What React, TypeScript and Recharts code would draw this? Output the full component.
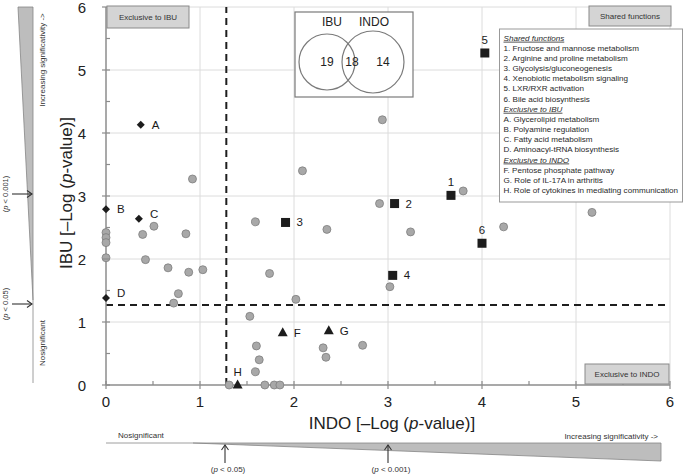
import React from "react";
import { ScatterChart, Scatter, XAxis, YAxis, ReferenceLine } from "recharts";

const FONT = '"Liberation Sans", Arial, Helvetica, sans-serif';

const axisTicks = [0, 0.5, 1, 1.5, 2, 2.5, 3, 3.5, 4, 4.5, 5, 5.5, 6];
const gridValues = [1, 2, 3, 4, 5, 6];
const indoThreshold = 1.28;
const ibuThreshold = 1.27;

const otherFunctions = [
  { x: 0, y: 2.42 }, { x: 0, y: 2.34 }, { x: 0, y: 2.26 }, { x: 0, y: 2.02 },
  { x: 0.39, y: 2.39 }, { x: 0.51, y: 2.52 }, { x: 0.42, y: 1.99 }, { x: 0.92, y: 3.27 },
  { x: 0.85, y: 2.4 }, { x: 0.66, y: 1.86 }, { x: 0.88, y: 1.79 }, { x: 1.03, y: 1.83 },
  { x: 0.77, y: 1.45 }, { x: 0.72, y: 1.3 },
  { x: 1.59, y: 2.59 }, { x: 1.74, y: 1.77 }, { x: 2.09, y: 3.4 }, { x: 2.94, y: 4.21 },
  { x: 2.91, y: 2.88 }, { x: 2.35, y: 2.47 }, { x: 3.24, y: 2.43 }, { x: 3.8, y: 3.08 },
  { x: 4.23, y: 2.51 }, { x: 5.17, y: 2.74 }, { x: 3.02, y: 1.56 }, { x: 2.02, y: 1.36 },
  { x: 1.53, y: 1.09 }, { x: 1.6, y: 0.62 }, { x: 1.63, y: 0.4 }, { x: 1.59, y: 0.21 },
  { x: 2.31, y: 0.59 }, { x: 2.34, y: 0.44 }, { x: 2.73, y: 0.63 },
  { x: 1.31, y: 0 }, { x: 1.69, y: 0 }, { x: 1.79, y: 0 }, { x: 1.85, y: 0 },
];

const sharedFunctions = [
  { label: "1", x: 3.67, y: 3.01 },
  { label: "2", x: 3.07, y: 2.88 },
  { label: "3", x: 1.91, y: 2.58 },
  { label: "4", x: 3.05, y: 1.74 },
  { label: "5", x: 4.03, y: 5.27 },
  { label: "6", x: 4.0, y: 2.25 },
];

const ibuFunctions = [
  { label: "A", x: 0.37, y: 4.13 },
  { label: "B", x: 0, y: 2.79 },
  { label: "C", x: 0.35, y: 2.64 },
  { label: "D", x: 0, y: 1.38 },
];

const indoFunctions = [
  { label: "F", x: 1.88, y: 0.83 },
  { label: "G", x: 2.37, y: 0.86 },
  { label: "H", x: 1.4, y: 0 },
];

const vennLabels = ["IBU", "INDO"];
const vennCounts = [19, 18, 14];

const legendSharedTitle = "Shared functions";
const legendShared = [
  "1. Fructose and mannose metabolism",
  "2. Arginine and proline metabolism",
  "3. Glycolysis/gluconeogenesis",
  "4. Xenobiotic metabolism signaling",
  "5. LXR/RXR activation",
  "6. Bile acid biosynthesis",
];
const legendIbuTitle = "Exclusive to IBU";
const legendIbu = [
  "A. Glycerolipid metabolism",
  "B. Polyamine regulation",
  "C. Fatty acid metabolism",
  "D. Aminoacyl-tRNA biosynthesis",
];
const legendIndoTitle = "Exclusive to INDO";
const legendIndo = [
  "F. Pentose phosphate pathway",
  "G. Role of IL-17A in arthritis",
  "H. Role of cytokines in mediating communication",
];

const labelSide: Record<string, string> = {
  "1": "top", "5": "top", "6": "top", H: "top", C: "rightUp", D: "rightUp",
};

const AXIS = "#8c8c8c";

const XTick = (props: any) => {
  const { x, y, payload } = props;
  const v = payload.value;
  const major = Number.isInteger(v);
  return (
    <g>
      <line x1={x} x2={x} y1={y - 4} y2={major ? y + 4 : y} stroke={AXIS} strokeWidth={1.2} />
      {major && (
        <text x={x} y={y + 22} textAnchor="middle" fontSize={15} fontFamily={FONT} fill="#222">
          {v}
        </text>
      )}
    </g>
  );
};

const YTick = (props: any) => {
  const { x, y, payload } = props;
  const v = payload.value;
  const major = Number.isInteger(v);
  return (
    <g>
      <line x1={major ? x - 4 : x} x2={x + 4} y1={y} y2={y} stroke={AXIS} strokeWidth={1.2} />
      {major && (
        <text x={x - 20} y={y + 5.5} textAnchor="end" fontSize={15} fontFamily={FONT} fill="#222">
          {v}
        </text>
      )}
    </g>
  );
};

const pointLabel = (cx: number, cy: number, label: string) => {
  const side = labelSide[label] || "right";
  if (side === "top") {
    return (
      <text x={cx} y={cy - 9} textAnchor="middle" fontSize={11.5} fontFamily={FONT} fill="#1a1a1a">
        {label}
      </text>
    );
  }
  const dy = side === "rightUp" ? -1 : 4;
  return (
    <text x={cx + 11} y={cy + dy} textAnchor="start" fontSize={11.5} fontFamily={FONT} fill="#1a1a1a">
      {label}
    </text>
  );
};

const circleShape = (p: any) => (
  <circle cx={p.cx} cy={p.cy} r={4} fill="#a8a8a8" stroke="#7e7e7e" strokeWidth={0.8} />
);

const squareShape = (p: any) => (
  <g>
    <rect x={p.cx - 4.5} y={p.cy - 4.5} width={9} height={9} fill="#1c1c1c" />
    {pointLabel(p.cx, p.cy, p.payload.label)}
  </g>
);

const diamondShape = (p: any) => (
  <g>
    <polygon
      points={`${p.cx},${p.cy - 4} ${p.cx + 4},${p.cy} ${p.cx},${p.cy + 4} ${p.cx - 4},${p.cy}`}
      fill="#1c1c1c"
    />
    {pointLabel(p.cx, p.cy, p.payload.label)}
  </g>
);

const triangleShape = (p: any) => (
  <g>
    <polygon
      points={`${p.cx},${p.cy - 5.5} ${p.cx + 5},${p.cy + 3.5} ${p.cx - 5},${p.cy + 3.5}`}
      fill="#1c1c1c"
    />
    {pointLabel(p.cx, p.cy, p.payload.label)}
  </g>
);

const GrayBox = ({ x, y, w, h, text }: any) => (
  <g>
    <rect x={x} y={y} width={w} height={h} fill="#d4d4d4" stroke="#8a8a8a" strokeWidth={1} />
    <text x={x + w / 2} y={y + h / 2 + 3} textAnchor="middle" fontSize={8} fontFamily={FONT} fill="#333">
      {text}
    </text>
  </g>
);

const Overlay = () => {
  const legendLines: { t: string; head: boolean }[] = [
    { t: legendSharedTitle, head: true },
    ...legendShared.map((t) => ({ t, head: false })),
    { t: legendIbuTitle, head: true },
    ...legendIbu.map((t) => ({ t, head: false })),
    { t: legendIndoTitle, head: true },
    ...legendIndo.map((t) => ({ t, head: false })),
  ];
  const small = { fontFamily: FONT, fill: "#333" };
  return (
    <svg
      width={685}
      height={474}
      style={{ position: "absolute", left: 0, top: 0, pointerEvents: "none" }}
    >
      <text x={392} y={429} textAnchor="middle" fontSize={17} fontFamily={FONT} fill="#222">
        INDO [–Log (<tspan fontStyle="italic">p</tspan>-value)]
      </text>
      <text
        x={72}
        y={193}
        textAnchor="middle"
        fontSize={17}
        fontFamily={FONT}
        fill="#222"
        transform="rotate(-90 72 193)"
      >
        IBU [–Log (<tspan fontStyle="italic">p</tspan>-value)]
      </text>

      <polygon points="18,7 33,7 33,300" fill="#bdbdbd" stroke="#858585" strokeWidth={0.8} />
      <line x1={33} y1={300} x2={33} y2={383} stroke="#858585" strokeWidth={0.8} />
      {[194, 304].map((yy) => (
        <g key={yy}>
          <line x1={12} y1={yy} x2={32} y2={yy} stroke="#333" strokeWidth={1.1} />
          <polyline points={`27,${yy - 3.5} 32,${yy} 27,${yy + 3.5}`} fill="none" stroke="#333" strokeWidth={1.1} />
        </g>
      ))}
      <text x={8} y={194} textAnchor="middle" fontSize={7.5} transform="rotate(-90 8 194)" {...small}>
        (<tspan fontStyle="italic">p</tspan> {"<"} 0.001)
      </text>
      <text x={8} y={304} textAnchor="middle" fontSize={7.5} transform="rotate(-90 8 304)" {...small}>
        (<tspan fontStyle="italic">p</tspan> {"<"} 0.05)
      </text>
      <text x={44.5} y={60} textAnchor="middle" fontSize={8} transform="rotate(-90 44.5 60)" {...small}>
        Increasing significativity {"->"}
      </text>
      <text x={44.5} y={343} textAnchor="middle" fontSize={8} transform="rotate(-90 44.5 343)" {...small}>
        Nosignificant
      </text>

      <line x1={106} y1={443} x2={193} y2={443} stroke="#858585" strokeWidth={0.8} />
      <polygon points="193,443 661,443 661,461" fill="#bdbdbd" stroke="#858585" strokeWidth={0.8} />
      {[225, 388].map((xx) => (
        <g key={xx}>
          <line x1={xx} y1={463} x2={xx} y2={445} stroke="#333" strokeWidth={1.1} />
          <polyline points={`${xx - 3.5},450 ${xx},445 ${xx + 3.5},450`} fill="none" stroke="#333" strokeWidth={1.1} />
        </g>
      ))}
      <text x={228} y={472} textAnchor="middle" fontSize={8} {...small}>
        (<tspan fontStyle="italic">p</tspan> {"<"} 0.05)
      </text>
      <text x={391} y={472} textAnchor="middle" fontSize={8} {...small}>
        (<tspan fontStyle="italic">p</tspan> {"<"} 0.001)
      </text>
      <text x={118} y={438} textAnchor="start" fontSize={8} {...small}>
        Nosignificant
      </text>
      <text x={658} y={439} textAnchor="end" fontSize={8} {...small}>
        Increasing significativity {"  ->"}
      </text>

      <GrayBox x={107} y={6} w={82} h={22} text="Exclusive to IBU" />
      <GrayBox x={589} y={6} w={82} h={20} text="Shared functions" />
      <GrayBox x={585} y={364} w={84} h={20} text="Exclusive to INDO" />

      <rect x={295} y={12} width={118} height={85} fill="#fff" stroke="#7a7a7a" strokeWidth={1.2} />
      <circle cx={327} cy={62} r={28} fill="none" stroke="#7a7a7a" strokeWidth={1.2} />
      <circle cx={373} cy={62} r={31} fill="none" stroke="#7a7a7a" strokeWidth={1.2} />
      <text x={332} y={26} textAnchor="middle" fontSize={12} fontFamily={FONT} fill="#222">
        {vennLabels[0]}
      </text>
      <text x={374} y={26} textAnchor="middle" fontSize={12} fontFamily={FONT} fill="#222">
        {vennLabels[1]}
      </text>
      <text x={327} y={66} textAnchor="middle" fontSize={12} fontFamily={FONT} fill="#222">
        {vennCounts[0]}
      </text>
      <text x={352} y={66} textAnchor="middle" fontSize={12} fontFamily={FONT} fill="#222">
        {vennCounts[1]}
      </text>
      <text x={383} y={66} textAnchor="middle" fontSize={12} fontFamily={FONT} fill="#222">
        {vennCounts[2]}
      </text>

      <rect x={499.5} y={29} width={183} height={173} fill="#fff" stroke="#999" strokeWidth={1} />
      {legendLines.map((l, i) => (
        <text
          key={i}
          x={503.5}
          y={40.7 + i * 10.15}
          fontSize={8.1}
          fontFamily={FONT}
          fill="#2a2a2a"
          fontStyle={l.head ? "italic" : "normal"}
          textDecoration={l.head ? "underline" : "none"}
        >
          {l.t}
        </text>
      ))}
    </svg>
  );
};

export default function App() {
  return (
    <div style={{ position: "absolute", left: 0, top: 0, width: 685, height: 474, background: "#fff" }}>
      <ScatterChart width={685} height={474} margin={{ top: 7, right: 15, bottom: 0, left: 0 }}>
        <XAxis
          type="number"
          dataKey="x"
          domain={[0, 6]}
          ticks={axisTicks}
          interval={0}
          tickSize={0}
          tickMargin={0}
          height={89}
          axisLine={{ stroke: AXIS, strokeWidth: 1.5 }}
          tickLine={false}
          tick={XTick}
        />
        <YAxis
          type="number"
          dataKey="y"
          domain={[0, 6]}
          ticks={axisTicks}
          interval={0}
          tickSize={0}
          tickMargin={0}
          width={106}
          axisLine={{ stroke: AXIS, strokeWidth: 1.5 }}
          tickLine={false}
          tick={YTick}
        />
        {gridValues.map((v) => (
          <ReferenceLine key={`gx${v}`} x={v} stroke="#dcdcdc" strokeWidth={1} />
        ))}
        {gridValues.map((v) => (
          <ReferenceLine key={`gy${v}`} y={v} stroke="#dcdcdc" strokeWidth={1} />
        ))}
        <ReferenceLine x={indoThreshold} stroke="#1e1e1e" strokeWidth={2} strokeDasharray="7 5" />
        <ReferenceLine y={ibuThreshold} stroke="#1e1e1e" strokeWidth={2} strokeDasharray="7 5" />
        <Scatter data={otherFunctions} shape={circleShape} isAnimationActive={false} />
        <Scatter data={sharedFunctions} shape={squareShape} isAnimationActive={false} />
        <Scatter data={ibuFunctions} shape={diamondShape} isAnimationActive={false} />
        <Scatter data={indoFunctions} shape={triangleShape} isAnimationActive={false} />
      </ScatterChart>
      <Overlay />
    </div>
  );
}
